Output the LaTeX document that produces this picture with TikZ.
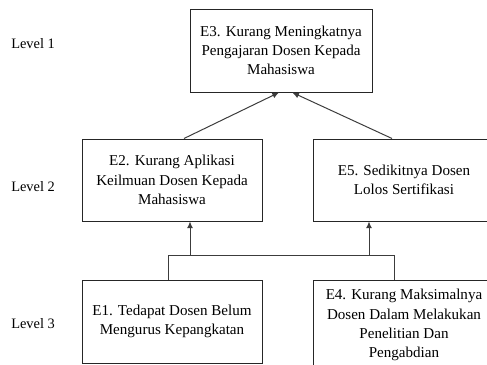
\documentclass[tikz,border=0pt]{standalone}
\usepackage{fontspec}
\setmainfont{Liberation Serif}
\usetikzlibrary{arrows.meta}
\definecolor{linegray}{RGB}{60,60,60}

\begin{document}
\begin{tikzpicture}[x=0.75pt, y=-0.75pt,
    box/.style={draw=black!85, line width=0.75pt, minimum width=135pt, minimum height=61.5pt, inner sep=0pt, align=center, font=\fontsize{11.3}{14.4}\selectfont},
    lvl/.style={anchor=west, inner sep=0pt, font=\fontsize{10.8}{14.4}\selectfont},
    arrow/.style={-{Latex[length=5pt, width=4.5pt]}, draw=linegray, line width=0.75pt},
    link/.style={draw=linegray, line width=0.75pt}
]
\clip (0,0) rectangle (487,365);

\node[lvl] (lv1) at (11,44) {Level 1};
\node[lvl] (lv2) at (11,187) {Level 2};
\node[lvl] (lv3) at (11,324) {Level 3};

\node[box, minimum width=136.5pt, minimum height=62.25pt] (e3) at (281,50.5) {E3. Kurang Meningkatnya\\Pengajaran Dosen Kepada\\Mahasiswa};
\node[box] (e2) at (172,180) {E2. Kurang Aplikasi\\Keilmuan Dosen Kepada\\Mahasiswa};
\node[box, minimum width=136.5pt] (e5) at (404,180) {E5. Sedikitnya Dosen\\Lolos Sertifikasi};
\node[box, minimum height=62.25pt] (e1) at (172,321.5) {E1. Tedapat Dosen Belum\\Mengurus Kepangkatan};
\node[box, minimum width=136.5pt, minimum height=67.5pt] (e4) at (404,325) {E4. Kurang Maksimalnya\\Dosen Dalam Melakukan\\Penelitian Dan\\Pengabdian};

% level 2 to level 1
\draw[arrow] ([xshift=9pt]e2.north) -- ([xshift=-1.5pt]e3.south);
\draw[arrow] ([xshift=-9pt]e5.north) -- ([xshift=8.5pt]e3.south);

% level 3 to level 2
\coordinate (busl) at (168,255);
\coordinate (busr) at (394,255);
\coordinate (j2) at (190,255);
\coordinate (j5) at (369,255);
\draw[link] (busl |- e1.north) -- (busl) -- (busr) -- (busr |- e4.north);
\draw[arrow] (j2) -- (j2 |- e2.south);
\draw[arrow] (j5) -- (j5 |- e5.south);

\end{tikzpicture}
\end{document}
